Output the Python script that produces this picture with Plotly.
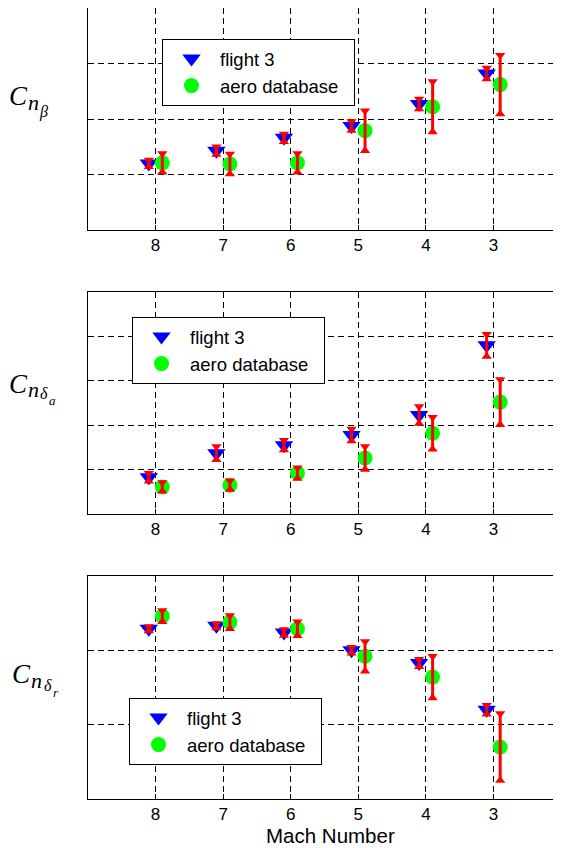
import numpy as np
import plotly.graph_objects as go

# The page body has an 8px default margin, so the figure is drawn 8px smaller
# and every reference pixel position is shifted by that offset.
OFF = 8
W, H = 561 - OFF, 848 - OFF

# ---------------- data ----------------
mach = [8, 7, 6, 5, 4, 3]
mach_tick_labels = ["8", "7", "6", "5", "4", "3"]
DODGE = 0.1  # horizontal offset between the two series at each Mach number

# C_n_beta
cnb_flight = [1.20, 1.43, 1.66, 1.875, 2.27, 2.82]
cnb_flight_err = [0.06, 0.07, 0.07, 0.08, 0.09, 0.10]
cnb_db = [1.21, 1.19, 1.21, 1.79, 2.22, 2.62]
cnb_db_err = [0.17, 0.18, 0.17, 0.36, 0.455, 0.53]

# C_n_delta_a
cnda_flight = [0.83, 1.37, 1.55, 1.78, 2.23, 3.80]
cnda_flight_err = [0.09, 0.15, 0.11, 0.135, 0.19, 0.25]
cnda_db = [0.61, 0.65, 0.92, 1.26, 1.82, 2.52]
cnda_db_err = [0.10, 0.10, 0.12, 0.26, 0.36, 0.51]

# C_n_delta_r
cndr_flight = [2.29, 2.33, 2.24, 2.00, 1.83, 1.20]
cndr_flight_err = [0.03, 0.03, 0.04, 0.04, 0.05, 0.06]
cndr_db = [2.46, 2.38, 2.29, 1.92, 1.64, 0.70]
cndr_db_err = [0.075, 0.09, 0.095, 0.20, 0.28, 0.45]

series_names = ["flight 3", "aero database"]

# ---------------- styling / layout ----------------
BLUE, GREEN, RED = "#0000FF", "#00FF00", "#FF0000"
SANS = "Liberation Sans, Arial, sans-serif"
SERIF = "Liberation Serif, Times New Roman, serif"
GRID = "#000000"


def clamp(v):
    return max(0.0, min(1.0, v))


def pxx(x):
    return clamp((x - OFF) / W)


def pxy(y):
    return clamp(1 - (y - OFF) / H)


X_LEFT, X_RIGHT = 88, 561
panels = [
    dict(flight=cnb_flight, ferr=cnb_flight_err, db=cnb_db, derr=cnb_db_err,
         yrange=[0, 4], yticks=[1, 2, 3], top=8, bottom=230,
         legend=dict(x=162, y=39)),
    dict(flight=cnda_flight, ferr=cnda_flight_err, db=cnda_db, derr=cnda_db_err,
         yrange=[0, 5], yticks=[1, 2, 3, 4], top=292, bottom=514,
         legend=dict(x=132, y=317)),
    dict(flight=cndr_flight, ferr=cndr_flight_err, db=cndr_db, derr=cndr_db_err,
         yrange=[0, 3], yticks=[1, 2], top=576, bottom=799,
         legend=dict(x=129, y=698)),
]

fig = go.Figure()
layout = dict(
    width=W, height=H, margin=dict(l=0, r=0, t=0, b=0),
    paper_bgcolor="white", plot_bgcolor="white", showlegend=True,
    font=dict(family=SANS, color="black"),
)

for i, p in enumerate(panels):
    n = "" if i == 0 else str(i + 1)
    xa, ya = "x" + n, "y" + n
    leg = "legend" + n
    xf = np.array(mach, dtype=float) + DODGE
    xd = np.array(mach, dtype=float) - DODGE
    yf, ef = np.array(p["flight"]), np.array(p["ferr"])
    yd, ed = np.array(p["db"]), np.array(p["derr"])

    # markers
    fig.add_trace(go.Scatter(x=xf, y=yf, mode="markers", name=series_names[0] + "\u00a0\u00a0",
                             marker=dict(symbol="triangle-down", size=16, color=BLUE),
                             xaxis=xa, yaxis=ya, legend=leg, showlegend=True))
    fig.add_trace(go.Scatter(x=xd, y=yd, mode="markers", name=series_names[1] + "\u00a0\u00a0",
                             marker=dict(symbol="circle", size=15, color=GREEN),
                             xaxis=xa, yaxis=ya, legend=leg, showlegend=True))
    # red error bars drawn on top
    for xx, yy, ee in ((xf, yf, ef), (xd, yd, ed)):
        fig.add_trace(go.Scatter(x=xx, y=yy, mode="markers",
                                 marker=dict(size=1, color="rgba(0,0,0,0)"),
                                 error_y=dict(type="data", array=ee, visible=True,
                                              color=RED, thickness=3, width=0),
                                 xaxis=xa, yaxis=ya, showlegend=False, hoverinfo="skip"))
        fig.add_trace(go.Scatter(x=xx, y=yy + ee, mode="markers",
                                 marker=dict(symbol="triangle-down", size=9, color=RED),
                                 xaxis=xa, yaxis=ya, showlegend=False, hoverinfo="skip"))
        fig.add_trace(go.Scatter(x=xx, y=yy - ee, mode="markers",
                                 marker=dict(symbol="triangle-up", size=9, color=RED),
                                 xaxis=xa, yaxis=ya, showlegend=False, hoverinfo="skip"))

    layout["xaxis" + n] = dict(
        domain=[pxx(X_LEFT), pxx(X_RIGHT)], range=[9, 2.0], anchor=ya,
        tickmode="array", tickvals=mach, ticktext=mach_tick_labels,
        ticks="inside", ticklen=5, tickcolor="black", tickwidth=1,
        showline=True, linecolor="black", linewidth=1, mirror="ticks",
        showgrid=True, gridcolor=GRID, gridwidth=1, griddash="6px,4px",
        zeroline=False, tickfont=dict(family=SANS, size=17, color="black"),
    )
    layout["yaxis" + n] = dict(
        domain=[pxy(p["bottom"]), pxy(p["top"])], range=p["yrange"], anchor=xa,
        tickmode="array", tickvals=p["yticks"], showticklabels=False,
        ticks="inside", ticklen=5, tickcolor="black",
        showline=True, linecolor="black", linewidth=1, mirror=False,
        showgrid=True, gridcolor=GRID, gridwidth=1, griddash="6px,4px",
        zeroline=False,
    )
    layout[leg] = dict(
        x=pxx(p["legend"]["x"]), y=pxy(p["legend"]["y"]), xanchor="left", yanchor="top",
        xref="paper", yref="paper", bgcolor="white", bordercolor="black", borderwidth=1,
        font=dict(family=SANS, size=18.5, color="black"), itemwidth=47,
        tracegroupgap=0,
    )

fig.update_layout(**layout)

# y-axis labels built from pieces (C, n, subscript)
labels = [
    [("C", 18, 96, 27), ("n", 33, 102, 22), ("β", 43, 112, 16)],
    [("C", 18, 384, 27), ("n", 33, 390, 22), ("δ", 44, 394, 16), ("a", 52, 400, 13)],
    [("C", 21, 674, 27), ("n", 36, 680, 22), ("δ", 48, 685, 16), ("r", 56, 692, 13)],
]
for grp in labels:
    for txt, x, y, s in grp:
        fig.add_annotation(text="<i>" + txt + "</i>", x=pxx(x), y=pxy(y), xref="paper", yref="paper",
                           xanchor="center", yanchor="middle", showarrow=False,
                           font=dict(family=SERIF, size=s, color="black"))

fig.add_annotation(text="Mach Number", x=pxx(330), y=pxy(835), xref="paper", yref="paper",
                   xanchor="center", yanchor="middle", showarrow=False,
                   font=dict(family=SANS, size=20.5, color="black"))

fig.write_html("out.html")
